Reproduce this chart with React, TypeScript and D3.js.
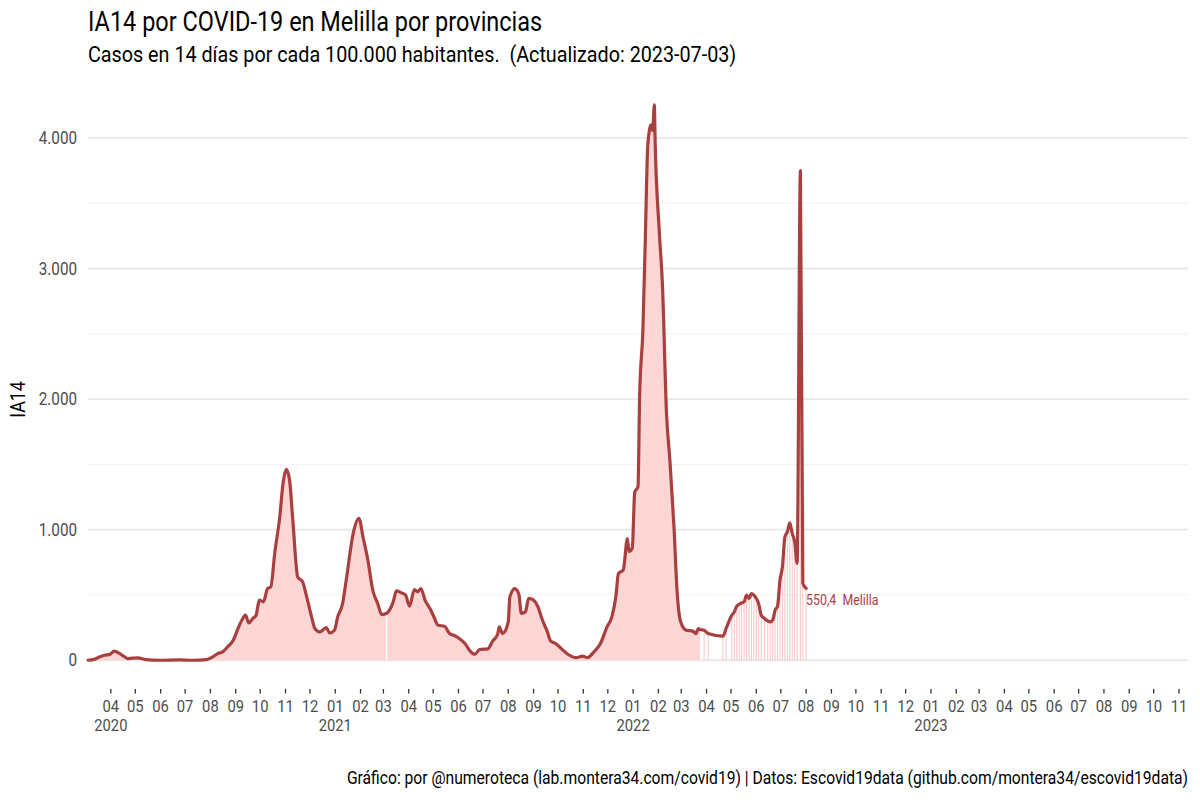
import * as d3 from "d3";

// ---------- DATA ----------
// IA14 for Melilla. Daily reporting period (drawn as filled area)
const DAILY_DATES = [
  "2020-03-04", "2020-03-12", "2020-03-18", "2020-03-24", "2020-03-31", "2020-04-05", "2020-04-12", "2020-04-18",
  "2020-04-22", "2020-05-04", "2020-05-14", "2020-05-31", "2020-06-24", "2020-07-10", "2020-07-27", "2020-08-04",
  "2020-08-10", "2020-08-16", "2020-08-22", "2020-08-29", "2020-09-03", "2020-09-09", "2020-09-13", "2020-09-17",
  "2020-09-22", "2020-09-26", "2020-09-30", "2020-10-05", "2020-10-10", "2020-10-14", "2020-10-19", "2020-10-25",
  "2020-10-29", "2020-11-02", "2020-11-06", "2020-11-10", "2020-11-16", "2020-11-22", "2020-11-27", "2020-12-03",
  "2020-12-07", "2020-12-13", "2020-12-21", "2020-12-25", "2020-12-31", "2021-01-04", "2021-01-10", "2021-01-15",
  "2021-01-23", "2021-01-30", "2021-02-04", "2021-02-10", "2021-02-16", "2021-02-22", "2021-02-27", "2021-03-05",
  "2021-03-13", "2021-03-17", "2021-03-23", "2021-03-28", "2021-04-02", "2021-04-08", "2021-04-12", "2021-04-16",
  "2021-04-21", "2021-04-27", "2021-05-01", "2021-05-07", "2021-05-15", "2021-05-21", "2021-05-27", "2021-06-02",
  "2021-06-09", "2021-06-15", "2021-06-21", "2021-06-27", "2021-07-07", "2021-07-13", "2021-07-19", "2021-07-21",
  "2021-07-25", "2021-08-01", "2021-08-03", "2021-08-09", "2021-08-14", "2021-08-17", "2021-08-22", "2021-08-26",
  "2021-09-01", "2021-09-06", "2021-09-12", "2021-09-18", "2021-09-22", "2021-09-28", "2021-10-05", "2021-10-13",
  "2021-10-23", "2021-10-31", "2021-11-06", "2021-11-14", "2021-11-22", "2021-11-30", "2021-12-06", "2021-12-11",
  "2021-12-14", "2021-12-20", "2021-12-25", "2021-12-27", "2021-12-31", "2022-01-03", "2022-01-07", "2022-01-09",
  "2022-01-13", "2022-01-16", "2022-01-19", "2022-01-23", "2022-01-25", "2022-01-27", "2022-01-28", "2022-02-02",
  "2022-02-06", "2022-02-11", "2022-02-15", "2022-02-20", "2022-02-24", "2022-02-28", "2022-03-07", "2022-03-15",
  "2022-03-19", "2022-03-22", "2022-03-24",
];
const DAILY_VALUES = [
  0, 8, 25, 38, 46, 69, 51, 25,
  13, 18, 5, 0, 3, 0, 5, 25,
  51, 64, 102, 153, 230, 312, 345, 286,
  320, 345, 460, 447, 549, 562, 830, 1098,
  1354, 1461, 1379, 1073, 638, 600, 485, 332,
  243, 217, 250, 209, 230, 332, 434, 638,
  971, 1086, 945, 766, 536, 434, 350, 360,
  447, 531, 516, 500, 414, 541, 524, 549,
  460, 396, 345, 268, 260, 204, 189, 166,
  128, 72, 46, 82, 87, 148, 199, 255,
  204, 294, 485, 549, 506, 358, 371, 473,
  460, 414, 306, 217, 146, 128, 89, 46,
  20, 31, 20, 64, 128, 255, 332, 494,
  664, 692, 932, 833, 859, 1286, 1328, 2021,
  2530, 3237, 3943, 4100, 4057, 4254, 3972, 3293,
  2869, 1880, 1540, 1031, 520, 300, 230, 223,
  204, 243, 235,
];

// Later period with sparse reports (drawn as thin bars)
const SPARSE_DATES = [
  "2022-03-29", "2022-04-03", "2022-04-21", "2022-04-25", "2022-05-02", "2022-05-05", "2022-05-08", "2022-05-11",
  "2022-05-14", "2022-05-17", "2022-05-20", "2022-05-23", "2022-05-26", "2022-05-29", "2022-06-01", "2022-06-04",
  "2022-06-07", "2022-06-11", "2022-06-15", "2022-06-18", "2022-06-21", "2022-06-24", "2022-06-27", "2022-06-30",
  "2022-07-03", "2022-07-06", "2022-07-09", "2022-07-12", "2022-07-15", "2022-07-18", "2022-07-21", "2022-07-25",
  "2022-07-28", "2022-08-01",
];
const SPARSE_VALUES = [
  230, 204, 184, 243, 345, 370, 414, 429,
  439, 447, 498, 473, 511, 498, 473, 429,
  345, 320, 301, 294, 306, 383, 414, 613,
  715, 945, 983, 1052, 971, 907, 741, 3749,
  588, 550.4,
];

// day without data inside the daily period
const MISSING_DATES = ["2021-03-05"];

const PROVINCE = "Melilla";
const X_LIMITS = ["2020-03-04", "2023-11-12"];
const Y_TICKS = [0, 1000, 2000, 3000, 4000];
const Y_MINOR = [500, 1500, 2500, 3500];

const TITLE = "IA14 por COVID-19 en Melilla por provincias";
const SUBTITLE = "Casos en 14 días por cada 100.000 habitantes.  (Actualizado: 2023-07-03)";
const CAPTION =
  "Gráfico: por @numeroteca (lab.montera34.com/covid19) | Datos: Escovid19data (github.com/montera34/escovid19data)";
const Y_TITLE = "IA14";

// ---------- LAYOUT ----------
const W = 1200;
const H = 800;
const PANEL = { left: 88, right: 1188, top: 77, bottom: 688 };
const LINE_COLOR = "#a8403f";
const FILL_COLOR = "#fcd5d5";
const BAR_COLOR = "#f9c4c4";
const FONT = "Roboto, 'Noto Sans', sans-serif";
const SX = 0.87; // squeeze Roboto towards a condensed look

type Pt = { date: Date; value: number };

const parse = d3.utcParse("%Y-%m-%d");
const locale = d3.formatLocale({ decimal: ",", thousands: ".", grouping: [3], currency: ["", "€"] });
const fmtY = locale.format(",d");
const fmtLabel = locale.format(",.1f");

function Txt(props: {
  x: number;
  y: number;
  size: number;
  anchor?: "start" | "middle" | "end";
  fill?: string;
  rotate?: number;
  children: string;
}) {
  const { x, y, size, anchor = "start", fill = "#000", rotate = 0, children } = props;
  return (
    <text
      transform={`translate(${x},${y}) rotate(${rotate}) scale(${SX},1)`}
      textAnchor={anchor}
      fontSize={size}
      fontFamily={FONT}
      fill={fill}
      style={{ whiteSpace: "pre" }}
    >
      {children}
    </text>
  );
}

export default function App() {
  const daily: Pt[] = DAILY_DATES.map((d, i) => ({ date: parse(d)!, value: DAILY_VALUES[i] }));
  const sparse: Pt[] = SPARSE_DATES.map((d, i) => ({ date: parse(d)!, value: SPARSE_VALUES[i] }));
  const all = [...daily, ...sparse];

  const x = d3
    .scaleUtc()
    .domain(X_LIMITS.map(d => parse(d)!) as [Date, Date])
    .range([PANEL.left, PANEL.right]);

  const maxV = d3.max(all, d => d.value)!;
  const y = d3
    .scaleLinear()
    .domain([-0.05 * maxV, 1.05 * maxV])
    .range([PANEL.bottom, PANEL.top]);

  const area = d3
    .area<Pt>()
    .x(d => x(d.date))
    .y0(y(0))
    .y1(d => y(d.value))
    .curve(d3.curveMonotoneX);

  const line = d3
    .line<Pt>()
    .x(d => x(d.date))
    .y(d => y(d.value))
    .curve(d3.curveMonotoneX);

  const monthTicks = x.ticks(d3.utcMonth.every(1)!);
  const fmtMonth = d3.utcFormat("%m");
  const fmtYear = d3.utcFormat("%Y");

  const last = sparse[sparse.length - 1];
  const missing = MISSING_DATES.map(d => {
    const date = parse(d)!;
    const pt = all.reduce((a, b) =>
      Math.abs(+b.date - +date) < Math.abs(+a.date - +date) ? b : a
    );
    return { date, value: pt.value };
  });

  return (
    <svg
      width={W}
      height={H}
      style={{ position: "absolute", left: 0, top: 0, background: "#fff" }}
    >
      {/* GRID */}
      {Y_MINOR.map(t => (
        <line key={`m${t}`} x1={PANEL.left} x2={PANEL.right} y1={y(t)} y2={y(t)} stroke="#f1f1f1" strokeWidth={1} />
      ))}
      {Y_TICKS.map(t => (
        <line key={`M${t}`} x1={PANEL.left} x2={PANEL.right} y1={y(t)} y2={y(t)} stroke="#e8e8e8" strokeWidth={1.8} />
      ))}

      {/* Y AXIS */}
      {Y_TICKS.map(t => (
        <Txt key={`yl${t}`} x={PANEL.left - 11} y={y(t) + 6} size={17.5} anchor="end" fill="#4d4d4d">
          {fmtY(t)}
        </Txt>
      ))}
      <Txt x={25} y={(PANEL.top + PANEL.bottom) / 2 + 17} size={20.5} anchor="middle" rotate={-90}>
        {Y_TITLE}
      </Txt>

      {/* X AXIS */}
      {monthTicks.map((t, i) => (
        <g key={+t}>
          <line x1={x(t)} x2={x(t)} y1={PANEL.bottom + 1} y2={PANEL.bottom + 5.5} stroke="#333" strokeWidth={1.3} />
          <Txt x={x(t)} y={711.7} size={17} anchor="middle" fill="#4d4d4d">
            {fmtMonth(t)}
          </Txt>
          {(i === 0 || t.getUTCMonth() === 0) && (
            <Txt x={x(t)} y={731} size={17} anchor="middle" fill="#4d4d4d">
              {fmtYear(t)}
            </Txt>
          )}
        </g>
      ))}

      {/* FILL */}
      <path d={area(daily) ?? ""} fill={FILL_COLOR} />
      {missing.map(m => (
        <line key={+m.date} x1={x(m.date)} x2={x(m.date)} y1={y(0)} y2={y(m.value)} stroke="#fff" strokeWidth={1.2} />
      ))}
      {sparse.map(d => (
        <line key={+d.date} x1={x(d.date)} x2={x(d.date)} y1={y(0)} y2={y(d.value)} stroke={BAR_COLOR} strokeWidth={1} />
      ))}

      {/* LINE */}
      <path
        d={line(all) ?? ""}
        fill="none"
        stroke={LINE_COLOR}
        strokeWidth={3.2}
        strokeLinejoin="round"
        strokeLinecap="round"
      />

      {/* END LABEL */}
      <Txt x={x(last.date)} y={y(last.value) + 17} size={14.2} fill={LINE_COLOR}>
        {`${fmtLabel(last.value)}  ${PROVINCE}`}
      </Txt>

      {/* TITLES */}
      <Txt x={PANEL.left} y={31} size={27}>{TITLE}</Txt>
      <Txt x={PANEL.left} y={61.5} size={22.7}>{SUBTITLE}</Txt>
      <Txt x={PANEL.right} y={784} size={18} anchor="end">{CAPTION}</Txt>
    </svg>
  );
}
